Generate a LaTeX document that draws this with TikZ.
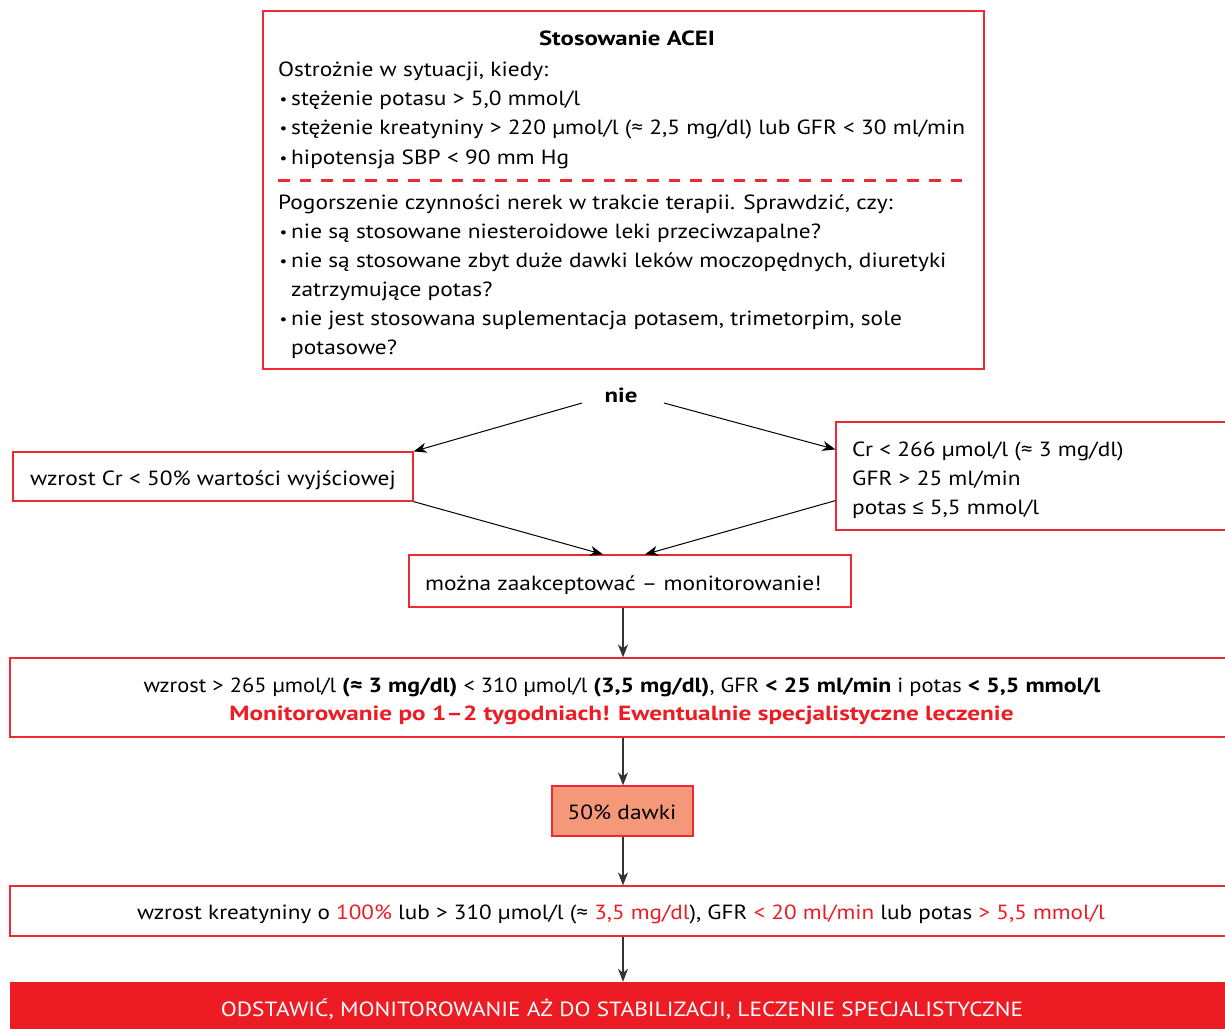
\documentclass[tikz,border=0pt]{standalone}
\usepackage{graphicx}
\usepackage{fontspec}
\setmainfont{PT Sans}[FakeStretch=1.14,BoldFeatures={FakeStretch=1.21}]
\newfontfamily\symf{Liberation Sans}[FakeStretch=0.95]
\usetikzlibrary{arrows.meta,calc}
\definecolor{boxred}{RGB}{236,42,52}
\definecolor{txtred}{RGB}{237,28,36}
\definecolor{salmon}{RGB}{245,152,122}
\newcommand\fsz{\fontsize{20.5}{29.3}\selectfont}
\newcommand\bul{\makebox[12pt][l]{\hspace{0.5pt}\raisebox{0.6pt}{\fontsize{15}{15}\selectfont •}}}
\newcommand\leqs{{\symf ≤}}
\begin{document}
\begin{tikzpicture}[x=1pt,y=-1pt,
  box/.style={draw=boxred,line width=1.2pt,fill=white,inner sep=0pt},
  txt/.style={inner sep=0pt,anchor=base west,font=\fsz},
  ctxt/.style={inner sep=0pt,anchor=base,font=\fsz},
  arr/.style={draw=black,line width=1pt,-{Stealth[length=13pt,width=10pt,inset=4pt]}},
  varr/.style={arr,draw=black!80,line width=1.4pt}]
\useasboundingbox (0,0) rectangle (1225,1028);
\clip (0,0) rectangle (1225,1028);
\fill[white] (0,0) rectangle (1225,1028);

% top box
\node[box,minimum width=721pt,minimum height=358pt] (acei) at (623.5,190) {};
\node[ctxt,font=\fsz\bfseries] (t0) at (627,45) {Stosowanie ACEI};
\node[txt] (t1) at (278,76) {Ostrożnie w sytuacji, kiedy:};
\node[txt] (t2) at (279,105) {\bul stężenie potasu > 5,0 mmol/l};
\node[txt] (t3) at (279,134.5) {\bul stężenie kreatyniny > 220 µmol/l (≈ 2,5 mg/dl) lub GFR < 30 ml/min};
\node[txt] (t4) at (279,164) {\bul hipotensja SBP < 90 mm Hg};
\coordinate (dA) at (278,180.5);
\coordinate (dB) at (969,180.5);
\draw[boxred,line width=2.6pt,dash pattern=on 11.7pt off 10pt] (dA) -- (dB);
\node[txt] (t5) at (278,209) {Pogorszenie czynności nerek w trakcie terapii. Sprawdzić, czy:};
\node[txt] (t6) at (279,238) {\bul nie są stosowane niesteroidowe leki przeciwzapalne?};
\node[txt] (t7) at (279,267) {\bul nie są stosowane zbyt duże dawki leków moczopędnych, diuretyki};
\node[txt] (t8) at (291,296) {zatrzymujące potas?};
\node[txt] (t9) at (279,325) {\bul nie jest stosowana suplementacja potasem, trimetorpim, sole};
\node[txt] (t10) at (291,354.5) {potasowe?};

% nie
\node[ctxt,font=\fsz\bfseries] (nie) at (621,402) {nie};
\coordinate (nL) at (582,403);
\coordinate (nR) at (664,403);

% left / right boxes
\node[box,minimum width=400pt,minimum height=49pt] (lbox) at (213,476.5) {};
\node[ctxt] (ltxt) at (213,485) {wzrost Cr < 50\% wartości wyjściowej};
\node[box,minimum width=398pt,minimum height=108pt] (rbox) at (1035,476) {};
\node[txt] (r1) at (852,456) {Cr < 266 µmol/l (≈ 3 mg/dl)};
\node[txt] (r2) at (852,485) {GFR > 25 ml/min};
\node[txt] (r3) at (852,514) {potas \leqs{} 5,5 mmol/l};

% middle
\node[box,minimum width=442pt,minimum height=52pt] (mid) at (630,581) {};
\node[txt] (mtxt) at (425,590) {można zaakceptować – monitorowanie!};

% box 3
\node[box,minimum width=1224pt,minimum height=79pt] (box3) at (622,697.5) {};
\node[ctxt] (b31) at (622,692) {\scalebox{0.961}[1]{wzrost > 265 µmol/l \textbf{(≈ 3 mg/dl)} < 310 µmol/l \textbf{(3,5 mg/dl)}, GFR \textbf{< 25 ml/min} i potas \textbf{< 5,5 mmol/l}}};
\node[ctxt,font=\fsz\bfseries,text=txtred] (b32) at (621.5,720) {\scalebox{1.017}[1]{Monitorowanie po 1–2 tygodniach! Ewentualnie specjalistyczne leczenie}};

% 50% box
\node[box,fill=salmon,minimum width=141pt,minimum height=50pt] (half) at (622.5,811) {};
\node[ctxt] (htxt) at (622,819) {50\% dawki};

% box 4
\node[box,minimum width=1224pt,minimum height=50pt] (box4) at (622,911) {};
\node[ctxt] (b4) at (621,919) {\scalebox{0.991}[1]{wzrost kreatyniny o \textcolor{txtred}{100\%} lub > 310 µmol/l (≈ \textcolor{txtred}{3,5 mg/dl}), GFR \textcolor{txtred}{< 20 ml/min} lub potas \textcolor{txtred}{> 5,5 mmol/l}}};

% bottom bar
\node[fill=txtred,draw=none,inner sep=0pt,minimum width=1224pt,minimum height=52pt] (bar) at (622,1008) {};
\node[ctxt,text=white] (bartxt) at (622,1016) {ODSTAWIĆ, MONITOROWANIE AŻ DO STABILIZACJI, LECZENIE SPECJALISTYCZNE};

% connectors
\coordinate (col) at (623,0);
\draw[arr] (nL) -- (lbox.north east);
\draw[arr] (nR) -- ([yshift=-28pt]rbox.north west);
\draw[arr] (lbox.south east) -- ([xshift=-27pt]mid.north);
\draw[arr] ([yshift=30pt]rbox.south west) -- ([xshift=15pt]mid.north);
\draw[varr] (mid.south -| col) -- (box3.north -| col);
\draw[varr] (box3.south -| col) -- (half.north -| col);
\draw[varr] (half.south -| col) -- (box4.north -| col);
\draw[varr] (box4.south -| col) -- (bar.north -| col);
\end{tikzpicture}
\end{document}
